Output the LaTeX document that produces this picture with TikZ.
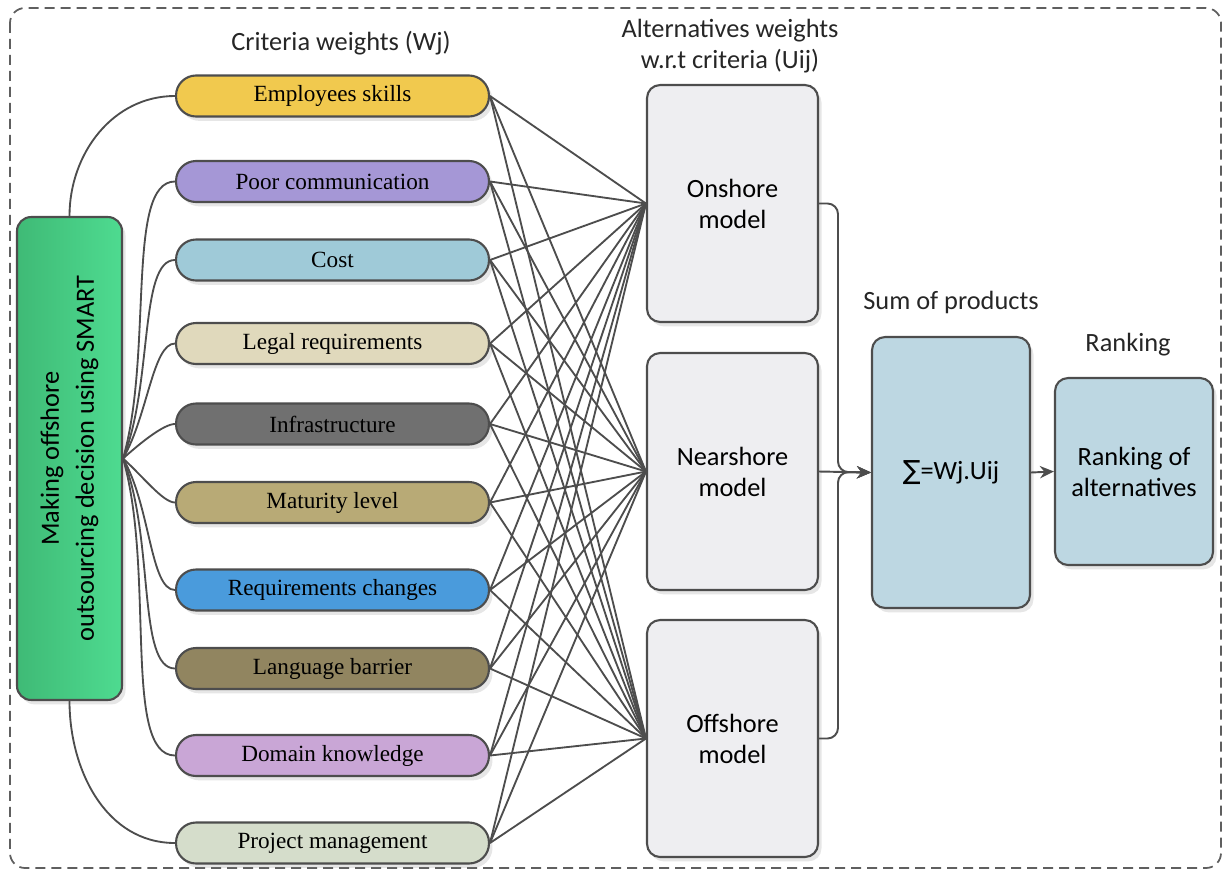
\documentclass[tikz,border=0pt]{standalone}
\usepackage{fontspec}
\setmainfont{Liberation Serif}
\setsansfont{Carlito}
\newfontfamily\symfont{DejaVu Sans}
\usetikzlibrary{arrows.meta,shadows}

\definecolor{cEmp}{HTML}{F1C94E}
\definecolor{cPoor}{HTML}{A597D6}
\definecolor{cCost}{HTML}{9FCAD8}
\definecolor{cLegal}{HTML}{E0D9BC}
\definecolor{cInfra}{HTML}{707070}
\definecolor{cMat}{HTML}{B8AA76}
\definecolor{cReq}{HTML}{4A9BDC}
\definecolor{cLang}{HTML}{918560}
\definecolor{cDom}{HTML}{C9A6D6}
\definecolor{cProj}{HTML}{D5DDCB}
\definecolor{cMakeL}{HTML}{3FBA76}
\definecolor{cMakeR}{HTML}{4EDB90}
\definecolor{cAlt}{HTML}{EEEEF1}
\definecolor{cSum}{HTML}{BDD7E2}
\definecolor{cLine}{HTML}{4D4D4D}

\tikzset{
    shade box/.style={drop shadow={shadow xshift=2pt, shadow yshift=-2.5pt, opacity=0.2}},
    crit/.style={draw=cLine, line width=1.2pt, rounded corners=0.4cm, minimum width=6.26cm,
        minimum height=0.82cm, font=\fontsize{13.2}{15}\selectfont, shade box},
    altbox/.style={draw=cLine, line width=1.2pt, fill=cAlt, rounded corners=0.26cm, minimum width=3.42cm,
        minimum height=4.74cm, align=center, font=\sffamily\fontsize{15}{17.6}\selectfont, shade box},
    sumbox/.style={draw=cLine, line width=1.2pt, fill=cSum, rounded corners=0.26cm, minimum width=3.16cm,
        align=center, font=\sffamily\fontsize{15}{17.6}\selectfont, shade box},
    head/.style={align=center, font=\sffamily\fontsize{15}{18}\selectfont, text=black!85},
    wire/.style={draw=cLine, line width=1.05pt},
    flow/.style={draw=cLine, line width=1.1pt, -{Stealth[length=8pt,width=7pt]}}
}

\begin{document}
\begin{tikzpicture}[x=0.02cm, y=-0.02cm]
        \useasboundingbox (0,0) rectangle (1226,875);
        % frame
            \draw[cLine!90, line width=1pt, dash pattern=on 0.2cm off 0.12cm, rounded corners=0.3cm]
                (10,8) rectangle (1221,868);
        % decision box
            \node[draw=cLine, line width=1.2pt, left color=cMakeL, right color=cMakeR, rounded corners=0.28cm,
                minimum width=2.1cm, minimum height=9.66cm, shade box] (mk) at (69.5,458.5) {};
            \node[rotate=90, align=center, font=\sffamily\fontsize{15}{19.8}\selectfont] (mktxt) at (mk)
                {Making offshore\\outsourcing decision using SMART};
        % criteria
            \foreach \i/\y/\col/\txt in {1/96/cEmp/Employees skills, 2/181.5/cPoor/Poor communication,
                3/260/cCost/Cost, 4/343.5/cLegal/Legal requirements, 5/424/cInfra/Infrastructure,
                6/502.5/cMat/Maturity level, 7/590/cReq/Requirements changes, 8/668.5/cLang/Language barrier,
                9/755.5/cDom/Domain knowledge, 10/843/cProj/Project management}{
                \node[crit, fill=\col] (c\i) at (332.5,\y) {\txt};
            }
        % alternatives
            \node[altbox] (on) at (732.5,203.5) {Onshore\\model};
            \node[altbox] (ne) at (732.5,471.5) {Nearshore\\model};
            \node[altbox] (of) at (732.5,738.5) {Offshore\\model};
        % sum and ranking
            \node[sumbox, minimum height=5.42cm] (sum) at (951,472.5) {{\symfont ∑}=Wj.Uij};
            \node[sumbox, minimum height=3.74cm] (rk) at (1134,471.5) {Ranking of\\alternatives};
        % labels
            \node[head] (lcrit) at (341,43) {Criteria weights (Wj)};
            \node[head] (lalt) at (730,46) {Alternatives weights\\w.r.t criteria (Uij)};
            \node[head] (lsum) at (951,302) {Sum of products};
            \node[head] (lrk) at (1128,345) {Ranking};
        % decision to criteria
            \draw[wire] (mk.north) to[out=90,in=180] (c1.west);
            \draw[wire] (mk.south) to[out=-90,in=180] (c10.west);
            \foreach \i/\o in {2/74,3/68,4/60,5/42,6/-42,7/-60,8/-68,9/-74}{
                \draw[wire] (mk.east) to[out=\o,in=180,in looseness=0.45] (c\i.west);
            }
        % criteria to alternatives
            \foreach \i in {1,...,10}{
                \foreach \a in {on,ne,of}{
                    \draw[wire] (c\i.east) -- (\a.west);
                }
            }
        % alternatives to sum
            \coordinate (jn) at (838,472);
            \draw[flow, rounded corners=6pt] (on.east) -| (jn) -- (sum.west);
            \draw[flow, rounded corners=6pt] (of.east) -| (jn) -- (sum.west);
            \draw[flow] (ne.east) -- (sum.west);
            \draw[flow] (sum.east) -- (rk.west);
        \end{tikzpicture}
\end{document}
